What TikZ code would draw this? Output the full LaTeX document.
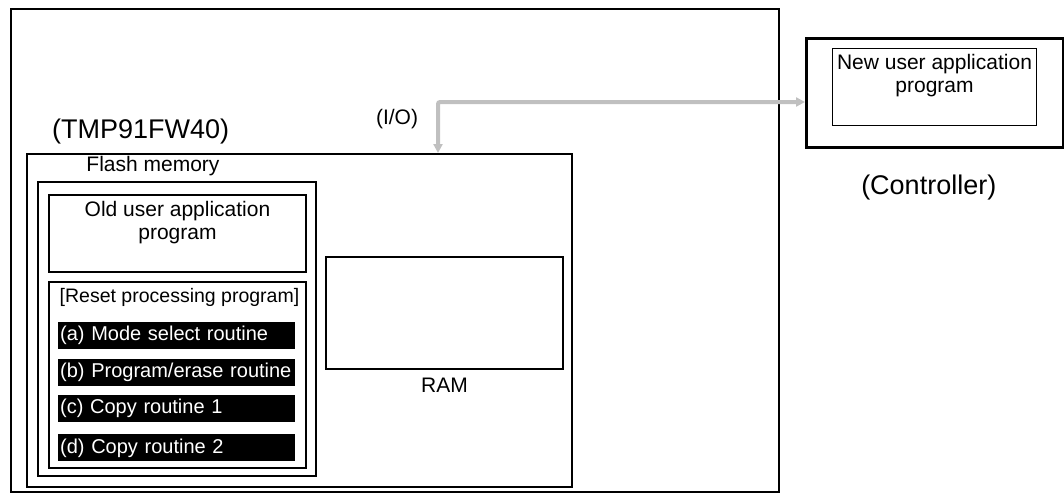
\documentclass[tikz,border=0pt]{standalone}
\usepackage{fontspec}
\setmainfont{Liberation Sans}
\usetikzlibrary{arrows.meta,positioning}
\definecolor{iogray}{RGB}{192,192,192}

\begin{document}
\begin{tikzpicture}[
    x=1pt, y=-1pt,
    node distance=9pt,
    box/.style={draw,line width=2pt,anchor=north west,inner sep=0pt},
    thinbox/.style={draw,line width=1pt,anchor=north west,inner sep=0pt},
    txt/.style={inner sep=0pt,align=center,font=\fontsize{21}{23}\selectfont},
    biglbl/.style={inner sep=0pt,font=\fontsize{27}{30}\selectfont},
    routine/.style={fill=black,text=white,anchor=north west,inner sep=0pt,inner xsep=2pt,
      text width=233pt,minimum height=27pt,align=left,font=\fontsize{20}{22}\selectfont},
    ioarrow/.style={{Triangle[length=9pt,width=9pt]}-{Triangle[length=9pt,width=9pt]},
      draw=iogray,line width=4pt,rounded corners=2pt}
  ]
    \useasboundingbox (0,0) rectangle (1064,499);

    % target board and controller
    \node[box,minimum width=768pt,minimum height=483pt] (board) at (10,8) {};
    \node[box,line width=2.5pt,minimum width=257pt,minimum height=109pt] (ctrl) at (805,37) {};
    \node[thinbox,minimum width=204pt,minimum height=77pt] (newapp) at (832,48) {};
    \node[txt,below=6pt of newapp.north] (newtxt) {New user application\\program};
    \node[biglbl,below=26pt of ctrl,xshift=-6pt] (ctrllbl) {(Controller)};

    % microcontroller
    \node[box,minimum width=545pt,minimum height=333pt] (chip) at (26,153) {};
    \node[biglbl,above right=9pt and 26pt of chip.north west] (chiplbl) {(TMP91FW40)};
    \node[box,minimum width=278pt,minimum height=294pt] (flash) at (37,181) {};
    \node[txt] (flashlbl) at (153,166) {Flash memory};
    \node[box,minimum width=257pt,minimum height=77pt] (olduser) at (48,194) {};
    \node[txt,below=7pt of olduser.north] (oldtxt) {Old user application\\program};
    \node[box,minimum width=257pt,minimum height=186pt] (reset) at (48,281) {};
    \node[txt,font=\fontsize{19.5}{22}\selectfont,below=7pt of reset.north,xshift=2pt] (resettxt)
      {[Reset processing program]};
    \node[routine] (moda) at (58,322) {(a) Mode select routine};
    \node[routine,below=9pt of moda.south west,anchor=north west] (modb) {(b) Program/erase routine};
    \node[routine,below=9pt of modb.south west,anchor=north west] (modc) {(c) Copy routine 1};
    \node[routine,below=12pt of modc.south west,anchor=north west] (modd) {(d) Copy routine 2};
    \node[box,minimum width=237pt,minimum height=112pt] (ram) at (325,256) {};
    \node[txt,below=8pt of ram] (ramlbl) {RAM};

    % serial link
    \node[txt] (iolbl) at (397,119) {(I/O)};
    \coordinate (iotap) at (438,153);
    \coordinate (ioend) at (805,102);
    \draw[ioarrow] (iotap) |- (ioend);
  \end{tikzpicture}
\end{document}
